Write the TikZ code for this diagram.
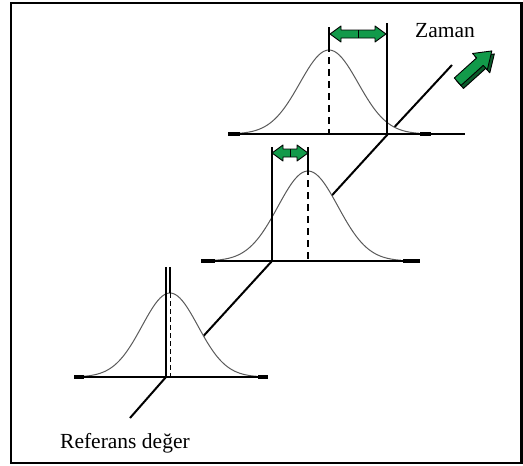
\documentclass[tikz,border=0pt]{standalone}
\usepackage{fontspec}
\setmainfont{Liberation Serif}
\usepackage{tikz}
\definecolor{ShiftGreen}{HTML}{129A4A}
\definecolor{ShiftDark}{HTML}{0A5A2A}
\definecolor{BellGrey}{HTML}{5A5A5A}

% double green arrow between two x positions at height #3
\newcommand{\shiftarrow}[3]{%
  \filldraw[shiftbox] (#1,#3) -- ({#1+11},{#3-8}) -- ({#1+11},{#3-4}) -- ({#2-11},{#3-4})
    -- ({#2-11},{#3-8}) -- (#2,#3) -- ({#2-11},{#3+8}) -- ({#2-11},{#3+4})
    -- ({#1+11},{#3+4}) -- ({#1+11},{#3+8}) -- cycle;
  \draw[shiftbox] ({(#1+#2)/2},{#3-4}) -- ({(#1+#2)/2},{#3+4});}

\begin{document}
\begin{tikzpicture}[x=1pt,y=-1pt,
      frame/.style={draw=black,line width=2.5pt},
      axisline/.style={draw=black,line width=2pt},
      bell/.style={draw=BellGrey,line width=1pt},
      base/.style={draw=black,line width=2.5pt},
      endcap/.style={draw=black,line width=4pt},
      marker/.style={draw=black,line width=2.5pt},
      meanline/.style={draw=black,line width=2.5pt,dash pattern=on 7pt off 5pt},
      shiftbox/.style={draw=black,line width=0.9pt,fill=ShiftGreen,line join=round},
      caption/.style={inner sep=0pt,anchor=base west,font=\fontsize{21.5}{25}\selectfont}
    ]
  \useasboundingbox (0,0) rectangle (523,466);
  \draw[frame] (11,3) rectangle (521.5,463);

  % time axis, hidden behind the bells
  \coordinate (t0) at (130,418);
  \coordinate (t1) at (166,377);
  \coordinate (t2) at (272,261);
  \coordinate (t3) at (388,134);
  \coordinate (t4) at (452,65);
  \draw[axisline] (t0) -- (t1) -- (t2) -- (t3) -- (t4);

  % bells: peak x / base y / height / half width / 2 sigma^2
  \foreach \px/\by/\h/\hw/\s in {170/377/84/87/1568, 308/261/90/93/1800, 329/134/84/90/1700} {
    \fill[white] plot[domain=-\hw:\hw,samples=71] ({\px+\x},{\by-\h*exp(-((\x)*(\x))/\s)}) -- cycle;
    \draw[bell] plot[domain=-\hw:\hw,samples=71] ({\px+\x},{\by-\h*exp(-((\x)*(\x))/\s)});
  }

  % base lines with end caps
  \draw[base] (74,377) -- (268,377);
  \draw[base] (201,261) -- (420,261);
  \draw[base] (228,134) -- (465,134);
  \foreach \xa/\xb/\y in {74/84/377, 258/268/377, 201/215/261, 403/420/261, 228/240/134, 420/431/134}
    \draw[endcap] (\xa,\y) -- (\xb,\y);

  % reference value
  \draw[marker] (166,267) -- (t1);
  \draw[black,line width=1.6pt] (170,267) -- (170,293);
  \draw[black,line width=1pt,dash pattern=on 5pt off 3pt] (170,293) -- (170,377);

  % shifted means
  \draw[marker] (272,147) -- (t2);
  \draw[marker] (308,147) -- (308,168);
  \draw[meanline] (308,168) -- (308,261);
  \draw[marker] (387,23) -- (387,134);
  \draw[marker] (329,27) -- (329,45);
  \draw[meanline] (329,45) -- (329,134);

  \shiftarrow{272}{308}{153}
  \shiftarrow{330}{386}{34}

  % time direction
  \begin{scope}[shift={(476.5,70)},rotate=42]
    \filldraw[shiftbox,fill=ShiftDark] (-22,-5) -- (8,-5) -- (8,-11) -- (24,0) -- (8,11) -- (8,5) -- (-22,5) -- cycle;
  \end{scope}
  \begin{scope}[shift={(474,67)},rotate=42]
    \filldraw[shiftbox] (-22,-5) -- (8,-5) -- (8,-11) -- (24,0) -- (8,11) -- (8,5) -- (-22,5) -- cycle;
  \end{scope}

  \node[caption] (zaman) at (415,37) {Zaman};
  \node[caption] (referans) at (60,448) {Referans değer};
\end{tikzpicture}
\end{document}
